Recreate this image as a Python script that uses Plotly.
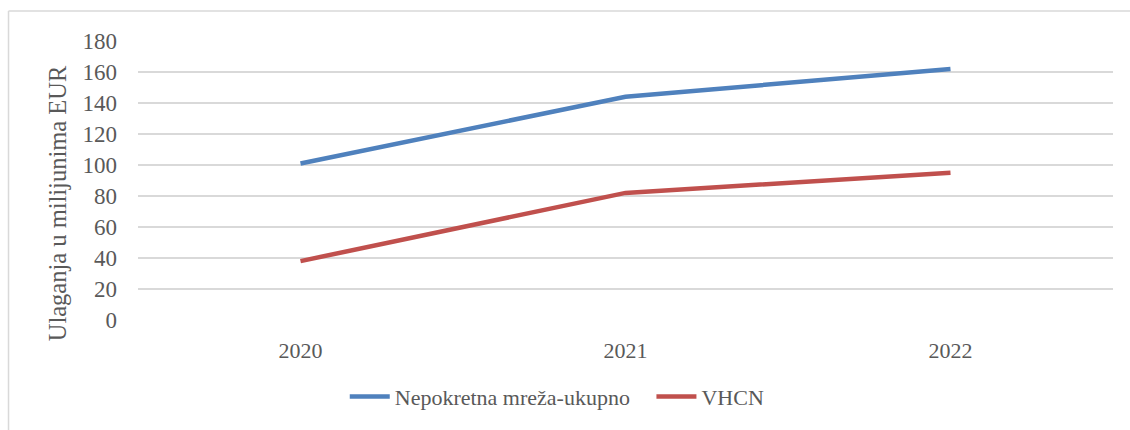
import plotly.graph_objects as go

years = ["2020", "2021", "2022"]
ukupno = [101, 144, 162]
vhcn = [38, 82, 95]
y_ticks = [0, 20, 40, 60, 80, 100, 120, 140, 160, 180]

font_main = "Liberation Serif, Times New Roman, serif"
grey_txt = "#595959"
grid = "#D9D9D9"

fig = go.Figure()
fig.add_trace(go.Scatter(x=years, y=ukupno, mode="lines",
                         name="Nepokretna mreža-ukupno\u00a0\u00a0\u00a0",
                         line=dict(color="#4F81BD", width=4.5)))
fig.add_trace(go.Scatter(x=years, y=vhcn, mode="lines", name="VHCN",
                         line=dict(color="#C0504D", width=4.5)))

fig.update_layout(
    width=1130, height=430, autosize=False,
    margin=dict(l=138, r=17, t=41, b=110),
    paper_bgcolor="white", plot_bgcolor="white",
    font=dict(family=font_main, size=22, color=grey_txt),
    showlegend=True,
    legend=dict(orientation="h", x=0.43, xanchor="center", y=-0.275, yanchor="middle",
                font=dict(size=22, color=grey_txt), itemwidth=40, tracegroupgap=0),
)
fig.update_xaxes(type="category", range=[-0.5, 2.5], showgrid=False, showline=False, zeroline=False,
                 ticks="", ticklabelstandoff=15, tickfont=dict(size=22, color=grey_txt))
fig.update_yaxes(range=[0, 180], tickvals=y_ticks, showgrid=True, gridcolor=grid, gridwidth=1.5,
                 zeroline=False, showline=False, ticks="", ticklabelstandoff=20,
                 tickfont=dict(size=23, color=grey_txt))

# y-axis title as annotation (Excel puts it slightly below the plot centre)
fig.add_annotation(text="Ulaganja u milijunima EUR", textangle=-90, showarrow=False,
                   xref="paper", yref="paper", x=-0.0826, y=0.42,
                   xanchor="center", yanchor="middle",
                   font=dict(size=24.5, color=grey_txt, family=font_main))

# chart-area border (cropped at right/bottom in the original)
fig.add_shape(type="line", xref="paper", yref="paper", x0=-0.1328, x1=1.1, y0=1.1075, y1=1.1075,
              line=dict(color=grid, width=1.5))
fig.add_shape(type="line", xref="paper", yref="paper", x0=-0.1328, x1=-0.1328, y0=1.1075, y1=-0.5,
              line=dict(color=grid, width=1.5))

fig.write_html("out.html", config={"responsive": False, "displayModeBar": False},
               post_script="document.body.style.margin='0px';")
